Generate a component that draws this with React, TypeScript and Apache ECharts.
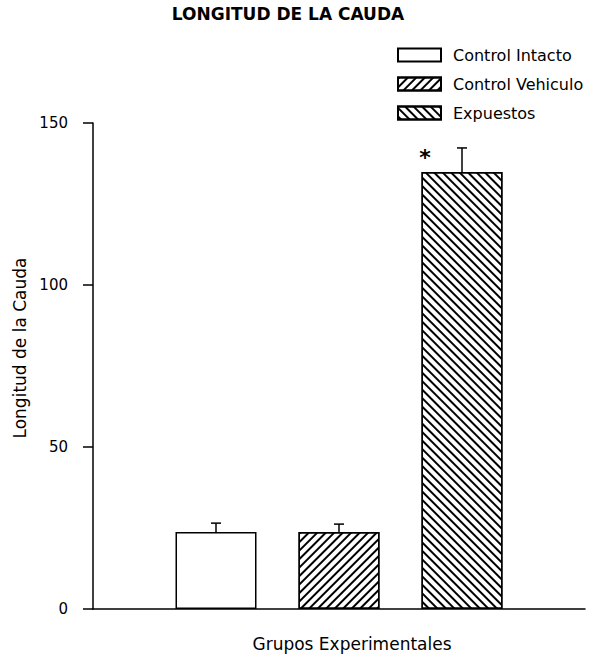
import React, { useEffect, useRef } from "react";
import * as echarts from "echarts";

const categories = ["Control Intacto", "Control Vehiculo", "Expuestos"];
const means = [23.8, 23.8, 134.9];
const errors = [2.7, 2.4, 7.4];
const significance = ["", "", "*"];
const yTicks = [0, 50, 100, 150];

const FONT = "DejaVu Sans";

export default function App() {
  const ref = useRef<HTMLDivElement>(null);
  useEffect(() => {
    document.body.style.margin = "0";
    const chart = echarts.init(ref.current!, null, { renderer: "svg" });
    const decals: any[] = [
      null,
      { symbol: "rect", symbolSize: 1, dashArrayX: [1, 0], dashArrayY: [1.5, 4], rotation: -Math.PI / 4, color: "#000" },
      { symbol: "rect", symbolSize: 1, dashArrayX: [1, 0], dashArrayY: [1.5, 3.6], rotation: Math.PI / 4, color: "#000" },
    ];
    const barSeries = categories.map((name, i) => ({
      name,
      type: "bar",
      barWidth: 81,
      barGap: "-100%",
      data: [[i + 1, means[i]]],
      itemStyle: {
        color: "#fff",
        borderColor: "#000",
        borderWidth: 1.5,
        ...(decals[i] ? { decal: decals[i] } : {}),
      },
    }));
    const errData = categories.map((_, i) => [i + 1, means[i], means[i] + errors[i], i]);
    const option: any = {
      animation: false,
      backgroundColor: "#fff",
      title: {
        text: "LONGITUD DE LA CAUDA",
        left: 283,
        textAlign: "center",
        top: 0,
        textStyle: { fontFamily: FONT, fontWeight: "bold", fontSize: 17, color: "#000" },
      },
      legend: {
        orient: "vertical",
        left: 392,
        top: 42,
        itemWidth: 43,
        itemHeight: 13,
        itemGap: 13,
        icon: "rect",
        data: categories,
        textStyle: { fontFamily: FONT, fontSize: 16, color: "#000", padding: [0, 0, 0, 7] },
      },
      grid: { left: 93, right: 7, top: 123, bottom: 49 },
      xAxis: {
        type: "value",
        min: 0,
        max: 4,
        name: "Grupos Experimentales",
        nameLocation: "middle",
        nameGap: 26,
        nameTextStyle: { fontFamily: FONT, fontSize: 17, color: "#000", padding: [0, 0, 0, 26] },
        axisLine: { show: true, lineStyle: { color: "#000", width: 1.5 } },
        axisTick: { show: false },
        axisLabel: { show: false },
        splitLine: { show: false },
      },
      yAxis: {
        type: "value",
        min: yTicks[0],
        max: yTicks[yTicks.length - 1],
        interval: 50,
        name: "Longitud de la Cauda",
        nameLocation: "middle",
        nameGap: 63,
        nameTextStyle: { fontFamily: FONT, fontSize: 17, color: "#000", padding: [0, 0, 0, 36] },
        axisLine: { show: true, lineStyle: { color: "#000", width: 1.5 } },
        axisTick: { show: true, length: 10, lineStyle: { color: "#000", width: 1.5 } },
        axisLabel: { margin: 25, fontFamily: FONT, fontSize: 15, color: "#000" },
        splitLine: { show: false },
      },
      series: [
        ...barSeries,
        {
          type: "custom",
          name: "err",
          data: errData,
          z: 5,
          renderItem: (params: any, api: any) => {
            const x = api.value(0);
            const lo = api.coord([x, api.value(1)]);
            const hi = api.coord([x, api.value(2)]);
            const idx = api.value(3);
            const children: any[] = [
              { type: "line", shape: { x1: lo[0], y1: lo[1], x2: hi[0], y2: hi[1] }, style: { stroke: "#000", lineWidth: 1.5 } },
              { type: "line", shape: { x1: hi[0] - 5, y1: hi[1], x2: hi[0] + 5, y2: hi[1] }, style: { stroke: "#000", lineWidth: 1.5 } },
            ];
            const s = significance[idx];
            if (s) {
              children.push({
                type: "text",
                x: hi[0] - 37,
                y: hi[1] + 10,
                style: { text: s, fontFamily: FONT, fontSize: 22, fontWeight: "bold", fill: "#000", align: "center", verticalAlign: "middle" },
              });
            }
            return { type: "group", children };
          },
        },
      ],
    };
    chart.setOption(option);
    return () => chart.dispose();
  }, []);
  return <div ref={ref} style={{ width: 592, height: 658 }} />;
}
